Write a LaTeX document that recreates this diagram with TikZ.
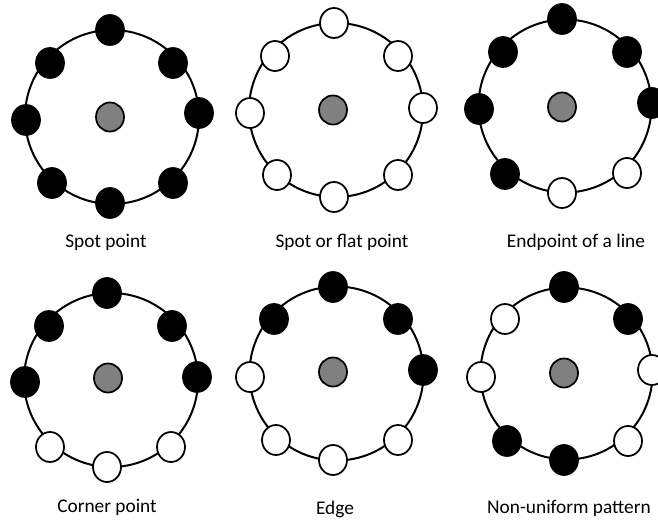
\documentclass[tikz,border=0pt]{standalone}
\usepackage{fontspec}
\setmainfont{Carlito}
\usetikzlibrary{shapes.geometric}
\definecolor{midgray}{RGB}{128,128,128}
\begin{document}
\begin{tikzpicture}[x=0.75pt,y=-0.75pt,
  ring/.style={line width=1.5pt},
  dot/.style={ellipse, minimum width=21pt, minimum height=22.5pt, inner sep=0pt, line width=1.3pt, draw=black},
  blk/.style={dot, fill=black},
  wht/.style={dot, fill=white},
  ctr/.style={dot, fill=midgray, minimum height=21.8pt},
  caption/.style={anchor=base, inner sep=0pt, font=\fontsize{14.5}{17}\selectfont}]
\useasboundingbox (0,0) rectangle (658,525);

% ---- Spot point ----
\coordinate (r1) at (112,117);
\draw[ring] (r1) circle[radius=87];
\node[ctr] (c1)   at (110,117) {};
\node[blk] (t1)   at (110,30) {};
\node[blk] (tl1)  at (50,63) {};
\node[blk] (tr1)  at (173,63) {};
\node[blk] (l1)   at (26,120) {};
\node[blk] (rr1)  at (199,113) {};
\node[blk] (bl1)  at (52,183) {};
\node[blk] (b1)   at (110,203) {};
\node[blk] (br1)  at (173,183) {};
\node[caption] (lab1) at (106,247) {Spot point};

% ---- Spot or flat point ----
\coordinate (r2) at (336,110);
\draw[ring] (r2) circle[radius=87];
\node[ctr] (c2)   at (333,110) {};
\node[wht] (t2)   at (334,23) {};
\node[wht] (tl2)  at (275,56) {};
\node[wht] (tr2)  at (398,56) {};
\node[wht] (l2)   at (250,113) {};
\node[wht] (rr2)  at (423,108) {};
\node[wht] (bl2)  at (277,175) {};
\node[wht] (b2)   at (334,197) {};
\node[wht] (br2)  at (398,175) {};
\node[caption] (lab2) at (342,247) {Spot or flat point};

% ---- Endpoint of a line ----
\coordinate (r3) at (565,106);
\draw[ring] (r3) circle[radius=86.5];
\node[ctr] (c3)   at (562,107) {};
\node[blk] (t3)   at (562,19) {};
\node[blk] (tl3)  at (503,52) {};
\node[blk] (tr3)  at (627,52) {};
\node[blk] (l3)   at (479,109) {};
\node[blk] (rr3)  at (652,103) {};
\node[blk] (bl3)  at (505,174) {};
\node[wht] (b3)   at (562,193) {};
\node[wht] (br3)  at (627,173) {};
\node[caption] (lab3) at (576,247) {Endpoint of a line};

% ---- Corner point ----
\coordinate (r4) at (111,380);
\draw[ring] (r4) circle[radius=87];
\node[ctr] (c4)   at (108,378) {};
\node[blk] (t4)   at (107,293) {};
\node[blk] (tl4)  at (49,326) {};
\node[blk] (tr4)  at (172,326) {};
\node[blk] (l4)   at (25,382) {};
\node[blk] (rr4)  at (197,377) {};
\node[wht] (bl4)  at (50,447) {};
\node[wht] (b4)   at (107,467) {};
\node[wht] (br4)  at (171,447) {};
\node[caption] (lab4) at (107,512) {Corner point};

% ---- Edge ----
\coordinate (r5) at (336.5,373.5);
\draw[ring] (r5) circle[radius=87];
\node[ctr] (c5)   at (333,372) {};
\node[blk] (t5)   at (333,287) {};
\node[blk] (tl5)  at (274,319) {};
\node[blk] (tr5)  at (398,319) {};
\node[wht] (l5)   at (250,377) {};
\node[blk] (rr5)  at (423,370) {};
\node[wht] (bl5)  at (276,440) {};
\node[wht] (b5)   at (333,460) {};
\node[wht] (br5)  at (398,440) {};
\node[caption] (lab5) at (335,514) {Edge};

% ---- Non-uniform pattern ----
\coordinate (r6) at (566.5,373.5);
\draw[ring] (r6) circle[radius=86];
\node[ctr] (c6)   at (564,373) {};
\node[blk] (t6)   at (564,287) {};
\node[wht] (tl6)  at (505,319) {};
\node[blk] (tr6)  at (628,319) {};
\node[wht] (l6)   at (481,377) {};
\node[wht] (rr6)  at (652,370) {};
\node[blk] (bl6)  at (507,441) {};
\node[blk] (b6)   at (564,460) {};
\node[wht] (br6)  at (628,441) {};
\node[caption] (lab6) at (569,513) {Non-uniform pattern};
\end{tikzpicture}
\end{document}
